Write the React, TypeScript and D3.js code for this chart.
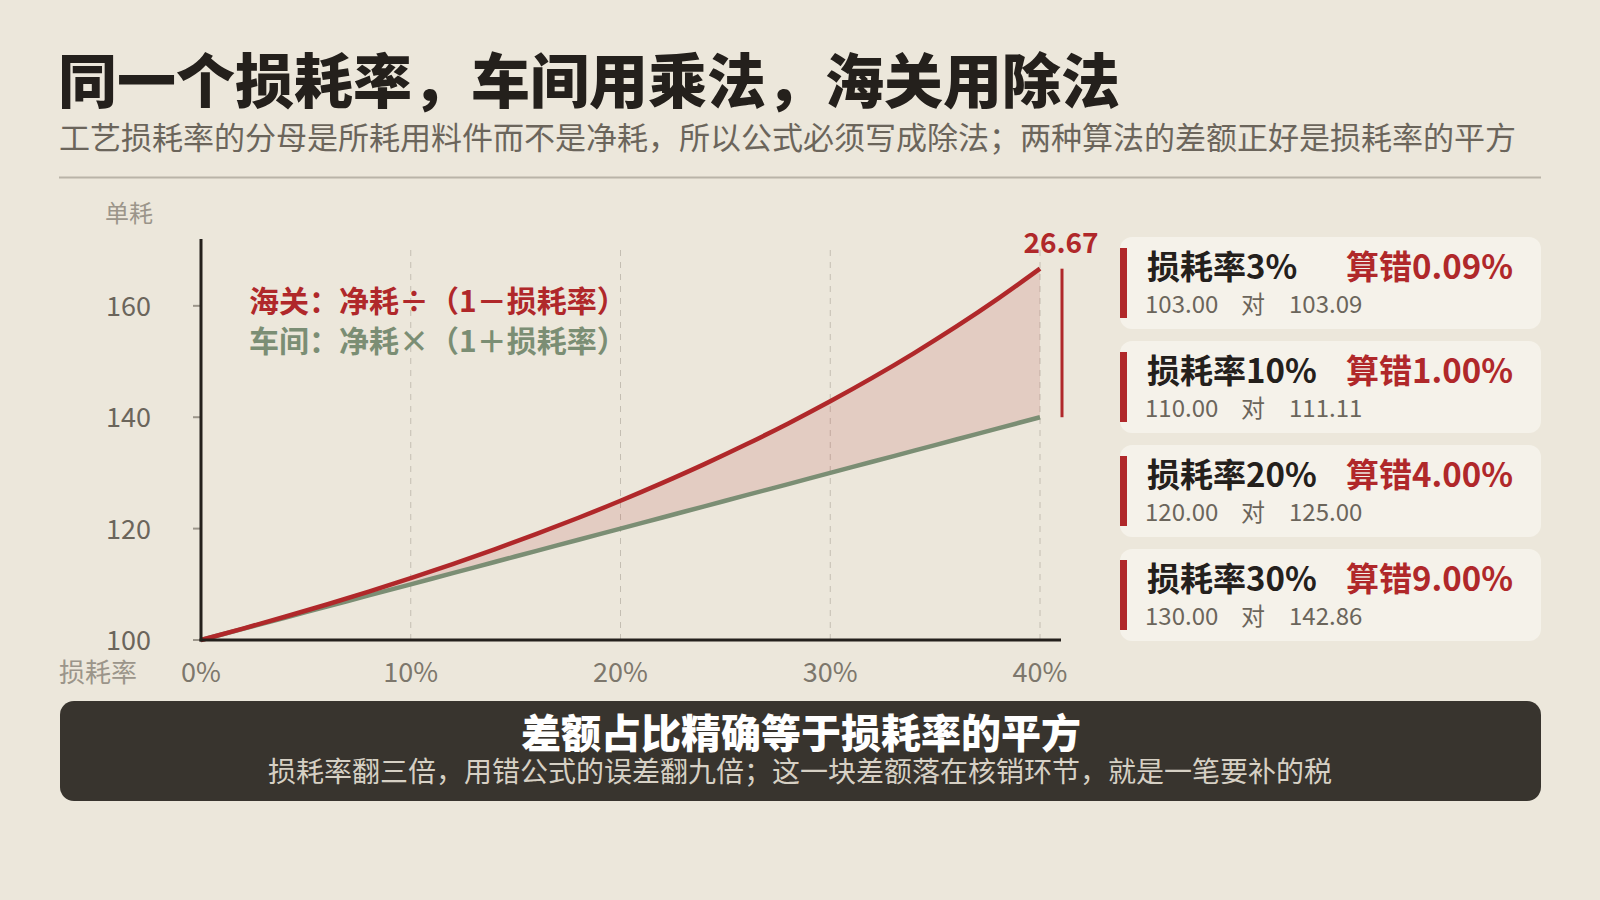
import React from "react";
import * as d3 from "d3";

const lossRates = [0, 0.02, 0.04, 0.06, 0.08, 0.1, 0.12, 0.14, 0.16, 0.18, 0.2, 0.22, 0.24, 0.26, 0.28, 0.3, 0.32, 0.34, 0.36, 0.38, 0.4];
const workshopValues = [100, 102, 104, 106, 108, 110, 112, 114, 116, 118, 120, 122, 124, 126, 128, 130, 132, 134, 136, 138, 140];
const customsValues = [100.0, 102.04, 104.17, 106.38, 108.7, 111.11, 113.64, 116.28, 119.05, 121.95, 125.0, 128.21, 131.58, 135.14, 138.89, 142.86, 147.06, 151.52, 156.25, 161.29, 166.67];

const xTicks = [0, 0.1, 0.2, 0.3, 0.4];
const xTickLabels = ["0%", "10%", "20%", "30%", "40%"];
const yTicks = [100, 120, 140, 160];

const endGapLabel = "26.67";

const cardRates = ["3%", "10%", "20%", "30%"];
const cardErrors = ["0.09%", "1.00%", "4.00%", "9.00%"];
const cardWorkshop = ["103.00", "110.00", "120.00", "130.00"];
const cardCustoms = ["103.09", "111.11", "125.00", "142.86"];

const BG = "#ece7db";
const RED = "#b0282a";
const GREEN = "#7b8e74";
const DARK = "#24201c";
const GRAY = "#6b655b";
const MIDGRAY = "#7d776c";
const LIGHTGRAY = "#9b958a";
const FONT = "'Noto Sans CJK SC', 'Noto Sans', sans-serif";

export default function App() {
  const W = 1600, H = 900;
  const x = d3.scaleLinear().domain([0, 0.4]).range([201, 1040]);
  const y = d3.scaleLinear().domain([100, 172]).range([640, 239]);

  const pts = lossRates.map((r, i) => ({ r, w: workshopValues[i], c: customsValues[i] }));
  const lineW = d3.line<any>().x(d => x(d.r)).y(d => y(d.w)).curve(d3.curveMonotoneX);
  const lineC = d3.line<any>().x(d => x(d.r)).y(d => y(d.c)).curve(d3.curveMonotoneX);
  const area = d3.area<any>().x(d => x(d.r)).y0(d => y(d.w)).y1(d => y(d.c)).curve(d3.curveMonotoneX);

  const last = pts[pts.length - 1];
  const cardTop = 237, cardStep = 104, cardH = 92;

  return (
    <svg width={W} height={H} style={{ position: "absolute", left: 0, top: 0, display: "block" }} fontFamily={FONT}>
      <rect width={W} height={H} fill={BG} />
      {/* Title */}
      <text x={58} y={103} fontSize={59} fontWeight={900} fill={DARK}>同一个损耗率，车间用乘法，海关用除法</text>
      <text x={59} y={149} fontSize={31} fill={GRAY}>工艺损耗率的分母是所耗用料件而不是净耗，所以公式必须写成除法；两种算法的差额正好是损耗率的平方</text>
      <line x1={59} x2={1541} y1={177.5} y2={177.5} stroke="#b9b4a8" strokeWidth={2} />

      {/* grid */}
      {xTicks.slice(1).map((t, i) => (
        <line key={"g" + i} x1={x(t)} x2={x(t)} y1={250} y2={640} stroke="#c4beb2" strokeWidth={1} strokeDasharray="6,6" />
      ))}

      {/* area + lines */}
      <path d={area(pts) || ""} fill={RED} fillOpacity={0.14} />
      <path d={lineW(pts) || ""} fill="none" stroke={GREEN} strokeWidth={4.5} />
      <path d={lineC(pts) || ""} fill="none" stroke={RED} strokeWidth={4.5} />

      {/* axes */}
      {yTicks.map((t, i) => (
        <g key={"y" + i}>
          <line x1={193} x2={201} y1={y(t)} y2={y(t)} stroke={LIGHTGRAY} strokeWidth={2} />
          <text x={151} y={y(t) + 10} fontSize={27} fill={GRAY} textAnchor="end">{t}</text>
        </g>
      ))}
      <line x1={201} x2={201} y1={239} y2={641.5} stroke={DARK} strokeWidth={3} />
      <line x1={199.5} x2={1061} y1={640} y2={640} stroke={DARK} strokeWidth={3} />
      {xTicks.map((t, i) => (
        <text key={"x" + i} x={x(t)} y={682} fontSize={27} fill={MIDGRAY} textAnchor="middle">{xTickLabels[i]}</text>
      ))}
      <text x={59} y={682} fontSize={26} fill={LIGHTGRAY}>损耗率</text>
      <text x={105} y={222} fontSize={24} fill={LIGHTGRAY}>单耗</text>

      {/* legend */}
      <text x={249} y={312} fontSize={30} fontWeight={700} fill={RED}>海关：净耗÷（1－损耗率）</text>
      <text x={249} y={352} fontSize={30} fontWeight={700} fill={GREEN}>车间：净耗×（1＋损耗率）</text>

      {/* gap bracket */}
      <line x1={1062} x2={1062} y1={y(last.c)} y2={y(last.w)} stroke={RED} strokeWidth={3} />
      <text x={1061} y={253} fontSize={28} fontWeight={700} fill={RED} textAnchor="middle">{endGapLabel}</text>

      {/* cards */}
      {cardRates.map((r, i) => {
        const top = cardTop + i * cardStep;
        return (
          <g key={"c" + i}>
            <rect x={1120} y={top} width={421} height={cardH} rx={12} fill="#f5f2ea" />
            <rect x={1120} y={top + 11} width={7} height={cardH - 22} fill={RED} />
            <text x={1147} y={top + 42} fontSize={33} fontWeight={700} fill={DARK}>{"损耗率" + r}</text>
            <text x={1513} y={top + 42} fontSize={33} fontWeight={700} fill={RED} textAnchor="end">{"算错" + cardErrors[i]}</text>
            <text x={1145} y={top + 76} fontSize={24} fill={GRAY}>{cardWorkshop[i]}</text>
            <text x={1241} y={top + 76} fontSize={24} fill={GRAY}>对</text>
            <text x={1289} y={top + 76} fontSize={24} fill={GRAY}>{cardCustoms[i]}</text>
          </g>
        );
      })}

      {/* banner */}
      <rect x={60} y={701} width={1481} height={100} rx={14} fill="#38342e" />
      <text x={801} y={748} fontSize={40} fontWeight={900} fill="#ffffff" textAnchor="middle">差额占比精确等于损耗率的平方</text>
      <text x={800} y={782} fontSize={28} fill="#d6d0c4" textAnchor="middle">损耗率翻三倍，用错公式的误差翻九倍；这一块差额落在核销环节，就是一笔要补的税</text>
    </svg>
  );
}
